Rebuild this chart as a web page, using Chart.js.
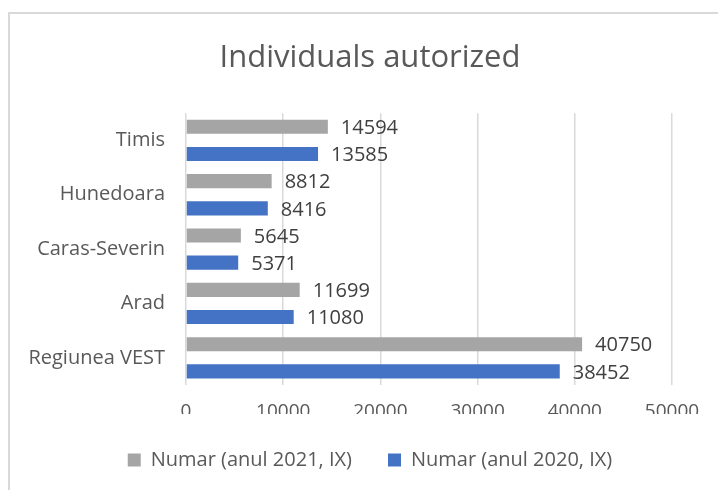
<!DOCTYPE html>
<html>
<head>
<meta charset="utf-8">
<script src="https://cdn.jsdelivr.net/npm/chart.js@4/dist/chart.umd.min.js"></script>
<style>
  html, body { margin: 0; padding: 0; background: #fff; overflow: hidden; }
  #frame { position: absolute; left: 8px; top: 12px; width: 760px; height: 540px; border: 2px solid #d9d9d9; box-sizing: border-box; }
  #wrap { position: absolute; left: 22px; top: 0; width: 696px; height: 490px; }
</style>
</head>
<body>
<div id="frame"></div>
<div id="wrap"><canvas id="c"></canvas></div>
<script>
const categories = ['Timis', 'Hunedoara', 'Caras-Severin', 'Arad', 'Regiunea VEST'];
const series2021 = [14594, 8812, 5645, 11699, 40750];
const series2020 = [13585, 8416, 5371, 11080, 38452];
const seriesNames = ['Numar (anul 2021, IX)', 'Numar (anul 2020, IX)'];
const titleText = 'Individuals autorized';

const FONT = "'Open Sans', 'Noto Sans', sans-serif";

const valueLabels = {
  id: 'valueLabels',
  afterDatasetsDraw(chart) {
    const ctx = chart.ctx;
    ctx.save();
    ctx.font = '20px ' + FONT;
    ctx.fillStyle = '#404040';
    ctx.textBaseline = 'middle';
    ctx.textAlign = 'left';
    chart.data.datasets.forEach((ds, i) => {
      const meta = chart.getDatasetMeta(i);
      meta.data.forEach((bar, j) => {
        ctx.fillText(String(ds.data[j]), bar.x + 13, bar.y + 1.5);
      });
    });
    ctx.restore();
  }
};

new Chart(document.getElementById('c'), {
  type: 'bar',
  data: {
    labels: categories,
    datasets: [
      { label: seriesNames[0], data: series2021, backgroundColor: '#a5a5a5', categoryPercentage: 1.0, barPercentage: 0.52 },
      { label: seriesNames[1], data: series2020, backgroundColor: '#4472c4', categoryPercentage: 1.0, barPercentage: 0.52 }
    ]
  },
  options: {
    indexAxis: 'y',
    responsive: true,
    maintainAspectRatio: false,
    animation: false,
    layout: { padding: { left: 0, right: 0, top: 0, bottom: 10 } },
    plugins: {
      title: {
        display: true, text: titleText, color: '#595959',
        font: { family: FONT, size: 31, weight: 'normal' },
        padding: { top: 40, bottom: 36 }
      },
      legend: {
        position: 'bottom',
        labels: {
          color: '#595959', font: { family: FONT, size: 20 },
          boxWidth: 13, boxHeight: 13, padding: 36
        }
      },
      tooltip: { enabled: false }
    },
    scales: {
      x: {
        min: 0, max: 50000,
        ticks: { stepSize: 10000, color: '#595959', font: { family: FONT, size: 19 }, padding: 15,
                 callback: v => String(v) },
        grid: { color: '#d9d9d9', lineWidth: 1.5, drawTicks: false },
        border: { display: false },
        afterFit: s => { s.height = 29; }
      },
      y: {
        ticks: { color: '#595959', font: { family: FONT, size: 20 }, padding: 21 },
        grid: { display: false, drawTicks: false },
        border: { display: false },
        afterFit: s => { s.width = 164; }
      },
      yRight: {
        type: 'linear', position: 'right', display: true,
        ticks: { display: false }, grid: { display: false, drawTicks: false }, border: { display: false },
        afterFit: s => { s.width = 46; }
      }
    }
  },
  plugins: [valueLabels]
});
</script>
</body>
</html>
